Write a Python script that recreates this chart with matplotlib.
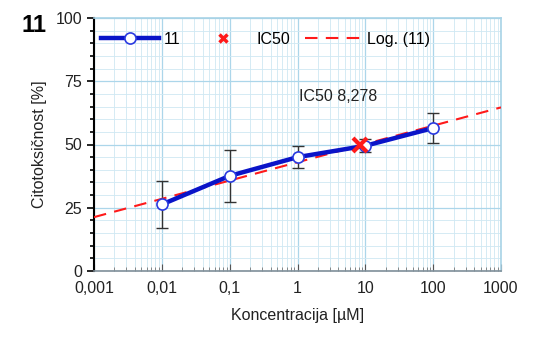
import matplotlib

matplotlib.use("Agg")
import matplotlib.pyplot as plt
import numpy as np
from matplotlib.lines import Line2D
from matplotlib.ticker import FixedLocator, LogLocator, NullFormatter

plt.rcParams["font.family"] = ["Liberation Sans", "DejaVu Sans"]

conc = [0.01, 0.1, 1, 10, 100]
cyto = [26.3, 37.6, 45.0, 49.5, 56.5]
err = [9.3, 10.3, 4.3, 2.6, 6.0]
ic50 = 8.278
ic50_y = 50
x_ticks = [0.001, 0.01, 0.1, 1, 10, 100, 1000]
x_labels = ["0,001", "0,01", "0,1", "1", "10", "100", "1000"]
y_ticks = [0, 25, 50, 75, 100]

BLUE, RED = "#0a14c8", "#ff1a1a"
FS = 11.5

fig = plt.figure(figsize=(5.52, 3.38), dpi=100)
ax = fig.add_axes([94 / 552, 1 - 271 / 338, 407 / 552, 253 / 338])

ax.set_xscale("log")
ax.set_xlim(0.001, 1000)
ax.set_ylim(0, 100)

ax.grid(True, which="major", color="#acd6ea", lw=0.9)
ax.grid(True, which="minor", color="#cfe8f3", lw=0.6)
ax.set_axisbelow(True)

# log trendline fitted to the data
b, a = np.polyfit(np.log10(conc), cyto, 1)
xt = np.logspace(-3, 3, 50)
trend, = ax.plot(xt, a + b * np.log10(xt), color=RED, lw=1.5, dashes=(6, 4), zorder=4)

ax.errorbar(conc, cyto, yerr=err, fmt="none", ecolor="#333333", elinewidth=1,
            capsize=4, capthick=1, zorder=3)
series, = ax.plot(conc, cyto, "-o", color=BLUE, lw=3.2, ms=8, mfc="white",
                  mec="#2a3ae0", mew=1.2, zorder=5)
ax.plot([ic50], [ic50_y], "x", color=RED, ms=10, mew=3, zorder=6)

ax.text(4.0, 68.8, "IC50 8,278", ha="center", va="center", fontsize=FS, color="#222222")

ax.xaxis.set_major_locator(FixedLocator(x_ticks))
ax.set_xticklabels(x_labels)
ax.xaxis.set_minor_locator(LogLocator(base=10, subs=np.arange(2, 10)))
ax.xaxis.set_minor_formatter(NullFormatter())
ax.set_yticks(y_ticks)
ax.yaxis.set_minor_locator(FixedLocator(np.arange(0, 101, 5)))

ax.tick_params(axis="both", which="major", labelsize=FS, colors="#222222", length=5)
ax.tick_params(axis="y", which="major", direction="out", width=1.2, color="black")
ax.tick_params(axis="y", which="minor", direction="out", length=3, width=1.2, color="black")
ax.tick_params(axis="x", which="major", direction="in", length=5, color="#555555")
ax.tick_params(axis="x", which="minor", direction="in", length=3, color="#777777")
ax.tick_params(axis="x", pad=7)

for side in ("top", "right"):
    ax.spines[side].set_color("#a8d3e6")
    ax.spines[side].set_linewidth(1.2)
ax.spines["left"].set_color("black")
ax.spines["left"].set_linewidth(1.5)
ax.spines["bottom"].set_color("#7f8f99")
ax.spines["bottom"].set_linewidth(1.2)

ax.set_xlabel("Koncentracija [µM]", fontsize=FS, color="#222222", labelpad=9)
ax.set_ylabel("Citotoksičnost [%]", fontsize=FS, color="#222222", labelpad=6)

ic50_handle = Line2D([], [], ls="none", marker="x", color=RED, ms=6, mew=2.5)
ax.legend([series, ic50_handle, trend], ["11", "IC50", "Log. (11)"],
          loc="upper left", ncol=3, frameon=False, fontsize=FS, handlelength=3.6,
          columnspacing=0.9, handletextpad=0.3, borderaxespad=0.3,
          bbox_to_anchor=(-0.01, 0.99))

fig.text(22 / 552, 1 - 25 / 338, "11", fontsize=17, fontweight="bold", ha="left", va="center")

fig.savefig("out.png", dpi=100)
